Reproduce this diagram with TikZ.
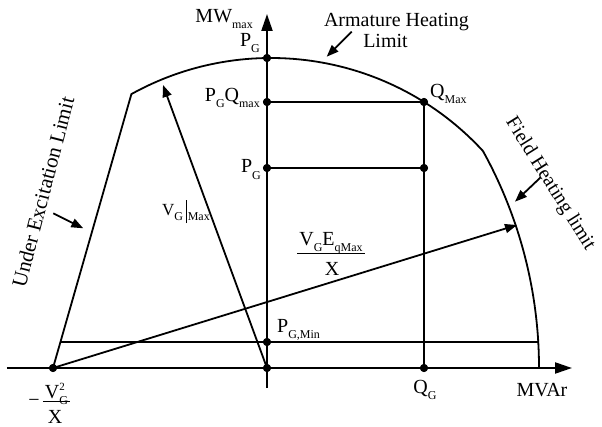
\documentclass[tikz,border=0pt]{standalone}
\usepackage{fontspec}
\setmainfont{Liberation Serif}
\usetikzlibrary{arrows.meta}
\newcommand\sbs[1]{\raisebox{-0.3em}{\fontsize{12}{12}\selectfont #1}}
\newcommand\sps[1]{\raisebox{0.38em}{\fontsize{11}{11}\selectfont #1}}
\begin{document}
\begin{tikzpicture}[x=1pt,y=1pt,
  line/.style={line width=1.8pt},
  axisline/.style={line width=2.2pt,-{Triangle[length=17pt,width=11pt]}},
  arr/.style={line width=1.8pt,-{Triangle[length=12pt,width=9pt]}},
  dot/.style={circle,fill,inner sep=0pt,minimum size=8pt},
  fracbar/.style={line width=1pt},
  lbl/.style={inner sep=0pt,font=\fontsize{20}{24}\selectfont},
  rotlbl/.style={inner sep=0pt,font=\fontsize{21}{24}\selectfont}]
\useasboundingbox (-267,-58) rectangle (335,368);
% coordinates
\coordinate (xl) at (-260,0);
\coordinate (xr) at (305,0);
\coordinate (yb) at (0,-20);
\coordinate (yt) at (0,354);
\coordinate (A) at (-135.6,273.9);
\coordinate (L1) at (-206.6,26);
\coordinate (L2) at (271.2,26);
\coordinate (Vt) at (-104,283);
\coordinate (Ft) at (250,143);
\coordinate (aa1) at (84.7,336.3);
\coordinate (aa2) at (59.7,311.3);
\coordinate (fa1) at (273.7,190.7);
\coordinate (fa2) at (248,166.3);
\coordinate (ua1) at (-213.7,154.7);
\coordinate (ua2) at (-183.7,139.7);
\coordinate (b1a) at (30,115);
\coordinate (b1b) at (98,115);
\coordinate (b2a) at (-224,-33);
\coordinate (b2b) at (-197,-33);
% dots (as nodes)
\node[dot] (dT) at (0,310) {};
\node[dot] (dPQ) at (0,266) {};
\node[dot] (dQM) at (157,266) {};
\node[dot] (dPG) at (0,200) {};
\node[dot] (dQP) at (157,200) {};
\node[dot] (dPM) at (0,26) {};
\node[dot] (dO) at (0,0) {};
\node[dot] (dQG) at (157,0) {};
\node[dot] (dU) at (-214,0) {};
% axes
\draw[axisline] (xl) -- (xr);
\draw[axisline] (yb) -- (yt);
% capability outline
\draw[line,line join=miter] (dU.center) -- (A)
  arc[start angle=119,end angle=42.62,radius=288]
  arc[start angle=28.97,end angle=0,radius=448];
% grid lines
\draw[line] (dPQ.center) -- (dQM.center) -- (dQG.center);
\draw[line] (dPG.center) -- (dQP.center);
\draw[line] (L1) -- (L2);
% radius arrows
\draw[arr] (dU.center) -- (Ft);
\draw[arr] (dO.center) -- (Vt);
% label arrows
\draw[arr] (aa1) -- (aa2);
\draw[arr] (fa1) -- (fa2);
\draw[arr] (ua1) -- (ua2);
% redraw dots on top
\foreach \n in {dT,dPQ,dQM,dPG,dQP,dPM,dO,dQG,dU} \fill (\n) circle[radius=4pt];
% labels
\node[lbl,anchor=base east] (mw) at (-14,345) {MW\sbs{max}};
\node[lbl,anchor=base east] (pgt) at (-7,321) {P\sbs{G}};
\node[lbl,anchor=base east] (pgq) at (-7,266) {P\sbs{G}Q\sbs{max}};
\node[lbl,anchor=base east] (pg) at (-6,195) {P\sbs{G}};
\node[lbl,anchor=base west] (pgm) at (10,36) {P\sbs{G,Min}};
\node[lbl,anchor=base west] (qm) at (163,270) {Q\sbs{Max}};
\node[lbl,anchor=base] (qg) at (158,-25) {Q\sbs{G}};
\node[lbl,anchor=base] (mvar) at (275,-28) {MVAr};
\node[lbl,anchor=base] (arm1) at (129.5,341) {Armature Heating};
\node[lbl,anchor=base] (arm2) at (118.5,320) {Limit};
\node[rotlbl,rotate=75.5] (uel) at (-224,176) {Under Excitation Limit};
\node[lbl,rotate=-58] (fhl) at (283,184) {Field Heating limit};
\node[lbl,anchor=base west,font=\fontsize{17}{20}\selectfont] (vgm) at (-105,153)
  {V\sbs{G}\,\rule[-8pt]{0.8pt}{23pt}\kern1pt\sbs{Max}};
\node[lbl,anchor=base] (num1) at (64,123) {V\sbs{G}E\sbs{qMax}};
\draw[fracbar] (b1a) -- (b1b);
\node[lbl,anchor=base] (den1) at (65,93) {X};
\node[lbl,anchor=base] (num2) at (-210.5,-30) {V\rlap{\sps{2}}\sbs{G}};
\draw[fracbar] (b2a) -- (b2b);
\node[lbl,anchor=base] (den2) at (-212,-55) {X};
\node[lbl,anchor=base] (minus) at (-233,-38) {−};
\end{tikzpicture}
\end{document}
